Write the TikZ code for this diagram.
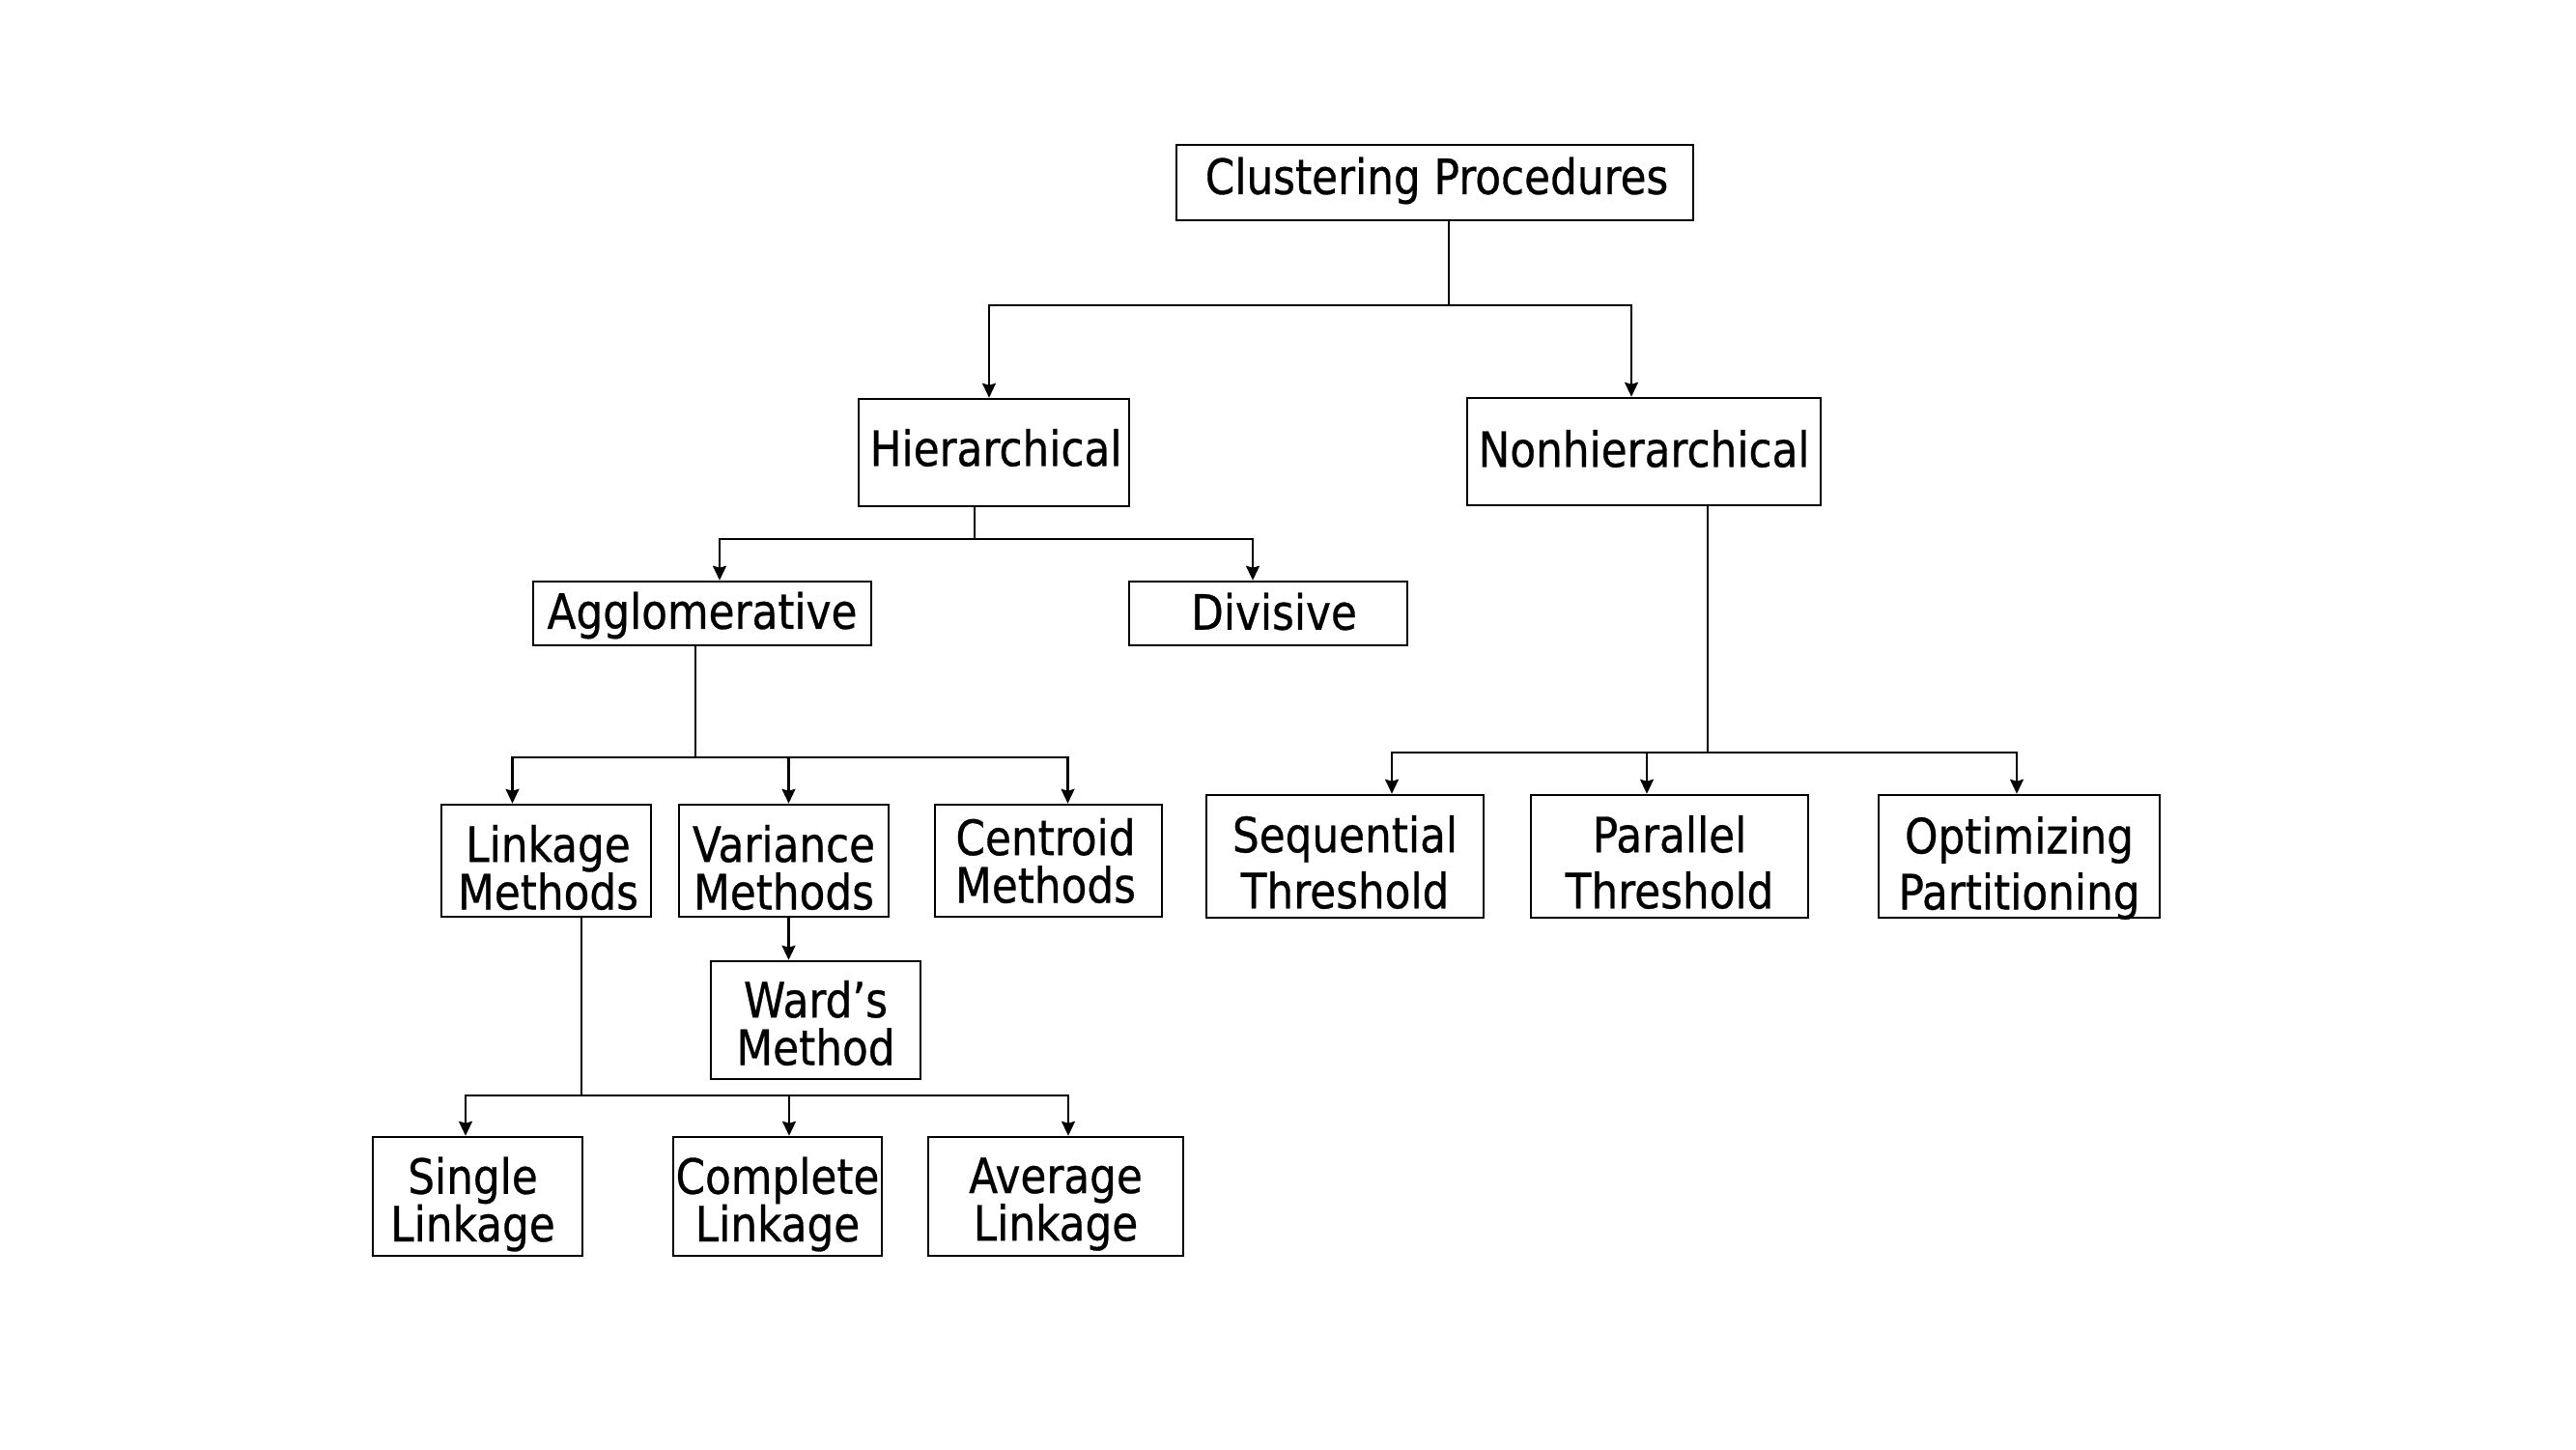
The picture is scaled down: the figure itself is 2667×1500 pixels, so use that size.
\documentclass[tikz,border=0pt]{standalone}
\usepackage{fontspec}
\setmainfont[FakeStretch=0.87,FakeBold=0.6]{DejaVu Sans}
\usetikzlibrary{arrows.meta,calc}
\begin{document}
\begin{tikzpicture}[x=0.01cm,y=-0.01cm,
  box/.style={draw,line width=0.7pt,inner sep=0pt},
  txt/.style={inner sep=0pt,align=center,font=\fontsize{14.3}{14}\selectfont},
  txtwide/.style={inner sep=0pt,align=center,font=\fontsize{14.3}{16.5}\selectfont},
  conn/.style={line width=0.6pt},
  arr/.style={conn,-{Stealth[length=0.15cm,width=0.14cm,inset=0.02cm]}}]
\useasboundingbox (0,0) rectangle (2667,1500);

\node[box,minimum width=5.35cm,minimum height=0.78cm] (clust) at (1485.5,189) {};
\node[box,minimum width=2.80cm,minimum height=1.11cm] (hier) at (1029,468.5) {};
\node[box,minimum width=3.66cm,minimum height=1.11cm] (nonh) at (1702,467.5) {};
\node[box,minimum width=3.50cm,minimum height=0.66cm] (agg) at (727,635) {};
\node[box,minimum width=2.88cm,minimum height=0.66cm] (div) at (1313,635) {};
\node[box,minimum width=2.17cm,minimum height=1.16cm] (link) at (565.5,891) {};
\node[box,minimum width=2.17cm,minimum height=1.16cm] (var) at (811.5,891) {};
\node[box,minimum width=2.35cm,minimum height=1.16cm] (cent) at (1085.5,891) {};
\node[box,minimum width=2.17cm,minimum height=1.22cm] (ward) at (844.5,1056) {};
\node[box,minimum width=2.17cm,minimum height=1.23cm] (single) at (494.5,1238.5) {};
\node[box,minimum width=2.16cm,minimum height=1.23cm] (complete) at (805,1238.5) {};
\node[box,minimum width=2.64cm,minimum height=1.23cm] (average) at (1093,1238.5) {};
\node[box,minimum width=2.87cm,minimum height=1.27cm] (seq) at (1392.5,886.5) {};
\node[box,minimum width=2.87cm,minimum height=1.27cm] (par) at (1728.5,886.5) {};
\node[box,minimum width=2.91cm,minimum height=1.27cm] (opt) at (2090.5,886.5) {};

\node[txt] (tclust) at ($(clust)+(2,-2)$) {Clustering Procedures};
\node[txt] (thier) at ($(hier)+(2,-5)$) {Hierarchical};
\node[txt] (tnonh) at ($(nonh)+(0,-3)$) {Nonhierarchical};
\node[txt] (tagg) at ($(agg)+(0,2)$) {Agglomerative};
\node[txt] (tdiv) at ($(div)+(6,-2)$) {Divisive};
\node[txt] (tlink) at ($(link)+(2,7)$) {Linkage\\Methods};
\node[txt] (tvar) at ($(var)+(0,7)$) {Variance\\Methods};
\node[txt] (tcent) at ($(cent)+(-3,0)$) {Centroid\\Methods};
\node[txt] (tward) at ($(ward)+(0,3)$) {Ward’s\\Method};
\node[txt] (tsingle) at ($(single)+(-5,8)$) {Single\\Linkage};
\node[txt] (tcomplete) at ($(complete)+(0,8)$) {Complete\\Linkage};
\node[txt] (taverage) at ($(average)+(0,8)$) {Average\\Linkage};
\node[txtwide] (tseq) at ($(seq)+(0,6)$) {Sequential\\Threshold};
\node[txtwide] (tpar) at ($(par)+(0,6)$) {Parallel\\Threshold};
\node[txtwide] (topt) at ($(opt)+(0,12)$) {Optimizing\\Partitioning};

\coordinate (j1) at (1500,316);
\draw[conn] (clust.south -| j1) -- (j1);
\draw[arr] (j1) -| ($(hier.north)+(-5,0)$);
\draw[arr] (j1) -| ($(nonh.north)+(-13,0)$);

\coordinate (j2) at (1009,558);
\draw[conn] (hier.south -| j2) -- (j2);
\draw[arr] (j2) -| ($(agg.north)+(18,0)$);
\draw[arr] (j2) -| ($(div.north)+(-16,0)$);

\coordinate (j3) at (720,784);
\draw[conn] (agg.south -| j3) -- (j3);
\draw[arr] (j3) -| ($(link.north)+(-35,0)$);
\draw[arr] (j3) -| ($(var.north)+(5,0)$);
\draw[arr] (j3) -| ($(cent.north)+(20,0)$);

\coordinate (v) at ($(var.south)+(5,0)$);
\draw[arr] (v) -- (v |- ward.north);

\coordinate (j4) at (602,1134);
\draw[conn] (link.south -| j4) -- (j4);
\draw[arr] (j4) -| ($(single.north)+(-12.5,0)$);
\draw[arr] (j4) -| ($(complete.north)+(12,0)$);
\draw[arr] (j4) -| ($(average.north)+(13,0)$);

\coordinate (j5) at (1768,779);
\draw[conn] (nonh.south -| j5) -- (j5);
\draw[arr] (j5) -| ($(seq.north)+(48.5,0)$);
\draw[arr] (j5) -| ($(par.north)+(-23.5,0)$);
\draw[arr] (j5) -| ($(opt.north)+(-2.5,0)$);
\end{tikzpicture}
\end{document}
